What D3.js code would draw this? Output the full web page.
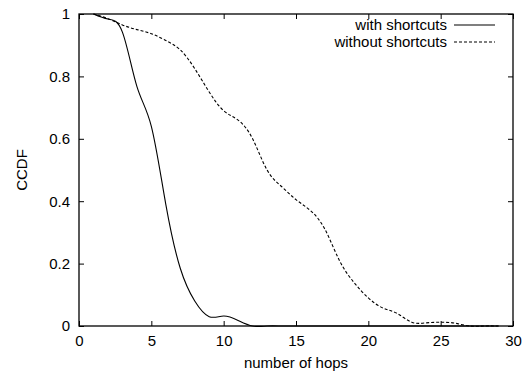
<!DOCTYPE html>
<html>
<head>
<meta charset="utf-8">
<script src="https://cdn.jsdelivr.net/npm/d3@7/dist/d3.min.js"></script>
<style>
  html, body { margin: 0; padding: 0; background: #fff; }
  svg { display: block; font-family: "Liberation Sans", Arial, sans-serif; }
</style>
</head>
<body>
<svg id="chart" width="524" height="372"></svg>
<script>
// Hop counts (x) and CCDF values for the two routing variants
const hops = [1, 2, 3, 4, 5, 6, 7, 8, 9, 10, 11, 12, 13, 14, 15, 16, 17, 18, 19, 20,
              21, 22, 23, 24, 25, 26, 27, 28, 29];
const withShortcuts = [1.0, 0.984, 0.942, 0.768, 0.64, 0.39, 0.185, 0.08, 0.03, 0.032,
                       0.018, 0.0, 0, 0, 0, 0, 0, 0, 0, 0, 0, 0, 0, 0, 0, 0, 0, 0, 0];
const withoutShortcuts = [1.0, 0.985, 0.965, 0.95, 0.937, 0.915, 0.885, 0.825, 0.75, 0.69,
                          0.66, 0.6, 0.5, 0.447, 0.405, 0.37, 0.31, 0.21, 0.14, 0.09,
                          0.058, 0.04, 0.012, 0.01, 0.012, 0.009, 0, 0, 0];
const seriesNames = ["with shortcuts", "without shortcuts"];
const xTicks = [0, 5, 10, 15, 20, 25, 30];
const yTicks = [0, 0.2, 0.4, 0.6, 0.8, 1];

const svg = d3.select("#chart");
const plotLeft = 79, plotRight = 513, plotTop = 14, plotBottom = 326;

const x = d3.scaleLinear().domain([0, 30]).range([plotLeft, plotRight]);
const y = d3.scaleLinear().domain([0, 1]).range([plotBottom, plotTop]);

const tickLen = 5;
const fontSize = 15;

// Inward ticks on all four sides, labels on left and bottom
const xAxisBottom = d3.axisBottom(x).tickValues(xTicks).tickSize(-tickLen).tickPadding(tickLen + 4)
  .tickFormat(d3.format("d"));
const xAxisTop = d3.axisTop(x).tickValues(xTicks).tickSize(-tickLen).tickFormat("");
const yAxisLeft = d3.axisLeft(y).tickValues(yTicks).tickSize(-tickLen).tickPadding(tickLen + 4)
  .tickFormat(d => d === 0 || d === 1 ? d3.format("d")(d) : d3.format(".1f")(d));
const yAxisRight = d3.axisRight(y).tickValues(yTicks).tickSize(-tickLen).tickFormat("");

function styleAxis(g) {
  g.select(".domain").remove();
  g.selectAll(".tick line").attr("stroke", "#000").attr("stroke-width", 1);
  g.selectAll(".tick text").attr("fill", "#000").style("font-size", fontSize + "px")
    .style("font-family", "'Liberation Sans', Arial, sans-serif");
}

svg.append("g").attr("transform", `translate(0,${plotBottom})`).call(xAxisBottom).call(styleAxis);
svg.append("g").attr("transform", `translate(0,${plotTop})`).call(xAxisTop).call(styleAxis);
svg.append("g").attr("transform", `translate(${plotLeft},0)`).call(yAxisLeft).call(styleAxis);
svg.append("g").attr("transform", `translate(${plotRight},0)`).call(yAxisRight).call(styleAxis);

// Plot frame
svg.append("rect")
  .attr("x", plotLeft).attr("y", plotTop)
  .attr("width", plotRight - plotLeft).attr("height", plotBottom - plotTop)
  .attr("fill", "none").attr("stroke", "#000").attr("stroke-width", 1.3);

// Axis titles
svg.append("text")
  .attr("x", (plotLeft + plotRight) / 2).attr("y", 368)
  .attr("text-anchor", "middle").style("font-size", fontSize + "px")
  .text("number of hops");
svg.append("text")
  .attr("transform", `translate(27,${(plotTop + plotBottom) / 2}) rotate(-90)`)
  .attr("text-anchor", "middle").style("font-size", fontSize + "px")
  .text("CCDF");

// Curves: natural cubic spline through the sampled points
const line = d3.line().curve(d3.curveNatural)
  .x(d => x(d[0])).y(d => y(d[1]));

const series = [
  { name: seriesNames[0], values: withShortcuts, dash: null },
  { name: seriesNames[1], values: withoutShortcuts, dash: "3,2" }
];

svg.append("g").selectAll("path").data(series).join("path")
  .attr("d", s => line(hops.map((h, i) => [h, s.values[i]])))
  .attr("fill", "none").attr("stroke", "#000").attr("stroke-width", 1.1)
  .attr("stroke-dasharray", s => s.dash);

// Legend (top right, labels right-aligned before sample lines)
const legend = svg.append("g").selectAll("g").data(series).join("g")
  .attr("transform", (s, i) => `translate(0,${25 + i * 17})`);
legend.append("text")
  .attr("x", 447).attr("y", 0).attr("dy", "0.35em")
  .attr("text-anchor", "end").style("font-size", fontSize + "px")
  .text(s => s.name);
legend.append("line")
  .attr("x1", 454).attr("x2", 495).attr("y1", 0).attr("y2", 0)
  .attr("stroke", "#000").attr("stroke-width", 1.1)
  .attr("stroke-dasharray", s => s.dash);
</script>
</body>
</html>
